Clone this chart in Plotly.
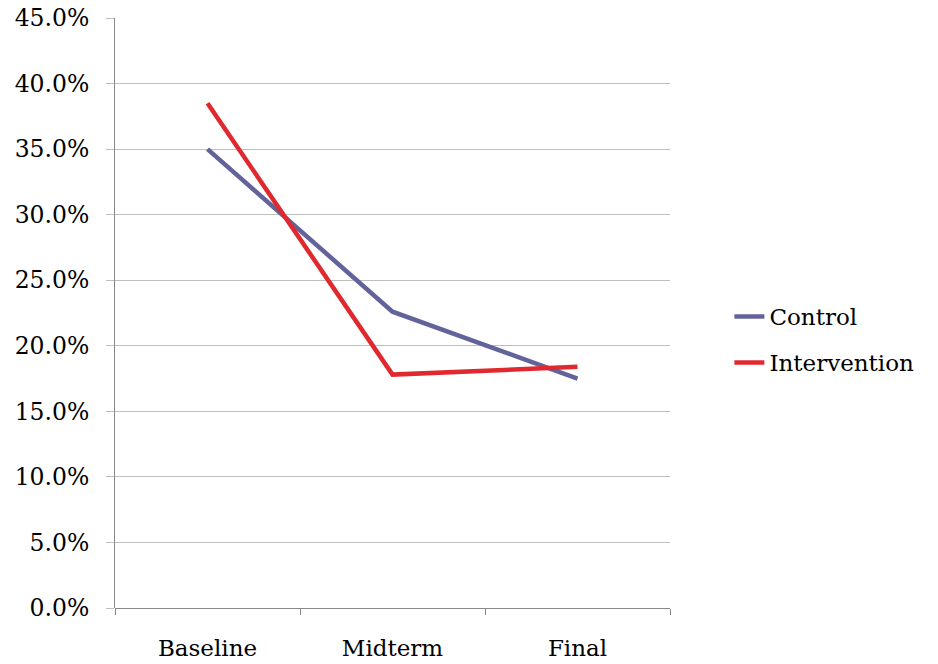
import plotly.graph_objects as go

# Survey rounds and the share of respondents in each group
phases = ["Baseline", "Midterm", "Final"]
control = [0.350, 0.226, 0.175]
intervention = [0.385, 0.178, 0.184]

CONTROL_COLOR = "#63639B"
INTERVENTION_COLOR = "#E0292F"
FONT = "DejaVu Serif"

fig = go.Figure()
fig.add_trace(go.Scatter(
    x=phases, y=control, name="Control", mode="lines",
    legendgroup="control",
    line=dict(color=CONTROL_COLOR, width=4.5),
))
fig.add_trace(go.Scatter(
    x=phases, y=intervention, name="Intervention", mode="lines",
    legendgroup="intervention",
    line=dict(color=INTERVENTION_COLOR, width=4.5),
))

fig.update_layout(
    width=938, height=664,
    margin=dict(l=115, r=268, t=18, b=56, autoexpand=False),
    paper_bgcolor="white", plot_bgcolor="white",
    font=dict(family=FONT, size=23, color="black"),
    showlegend=True,
    legend=dict(
        x=1.107, y=0.455, xanchor="left", yanchor="middle",
        font=dict(family=FONT, size=23, color="black"),
        bgcolor="rgba(0,0,0,0)", itemwidth=30,
        tracegroupgap=13,
    ),
)

fig.update_xaxes(
    type="category", range=[-0.5, 2.5], automargin=False,
    showgrid=False, showline=False, zeroline=False,
    ticks="outside", tickson="boundaries", ticklen=6,
    tickcolor="#888888", tickwidth=1,
    ticklabelstandoff=24,
    tickfont=dict(family=FONT, size=23, color="black"),
)

fig.update_yaxes(
    range=[0, 0.45], dtick=0.05, tickformat=".1%", automargin=False,
    showgrid=True, gridcolor="#BEBEBE", gridwidth=1,
    showline=True, linecolor="#888888", linewidth=1,
    zeroline=True, zerolinecolor="#888888", zerolinewidth=1,
    ticks="outside", ticklen=8, tickcolor="#BEBEBE", tickwidth=1,
    ticklabelstandoff=12,
    tickfont=dict(family=FONT, size=23.5, color="black"),
)

fig.write_html("out.html")
